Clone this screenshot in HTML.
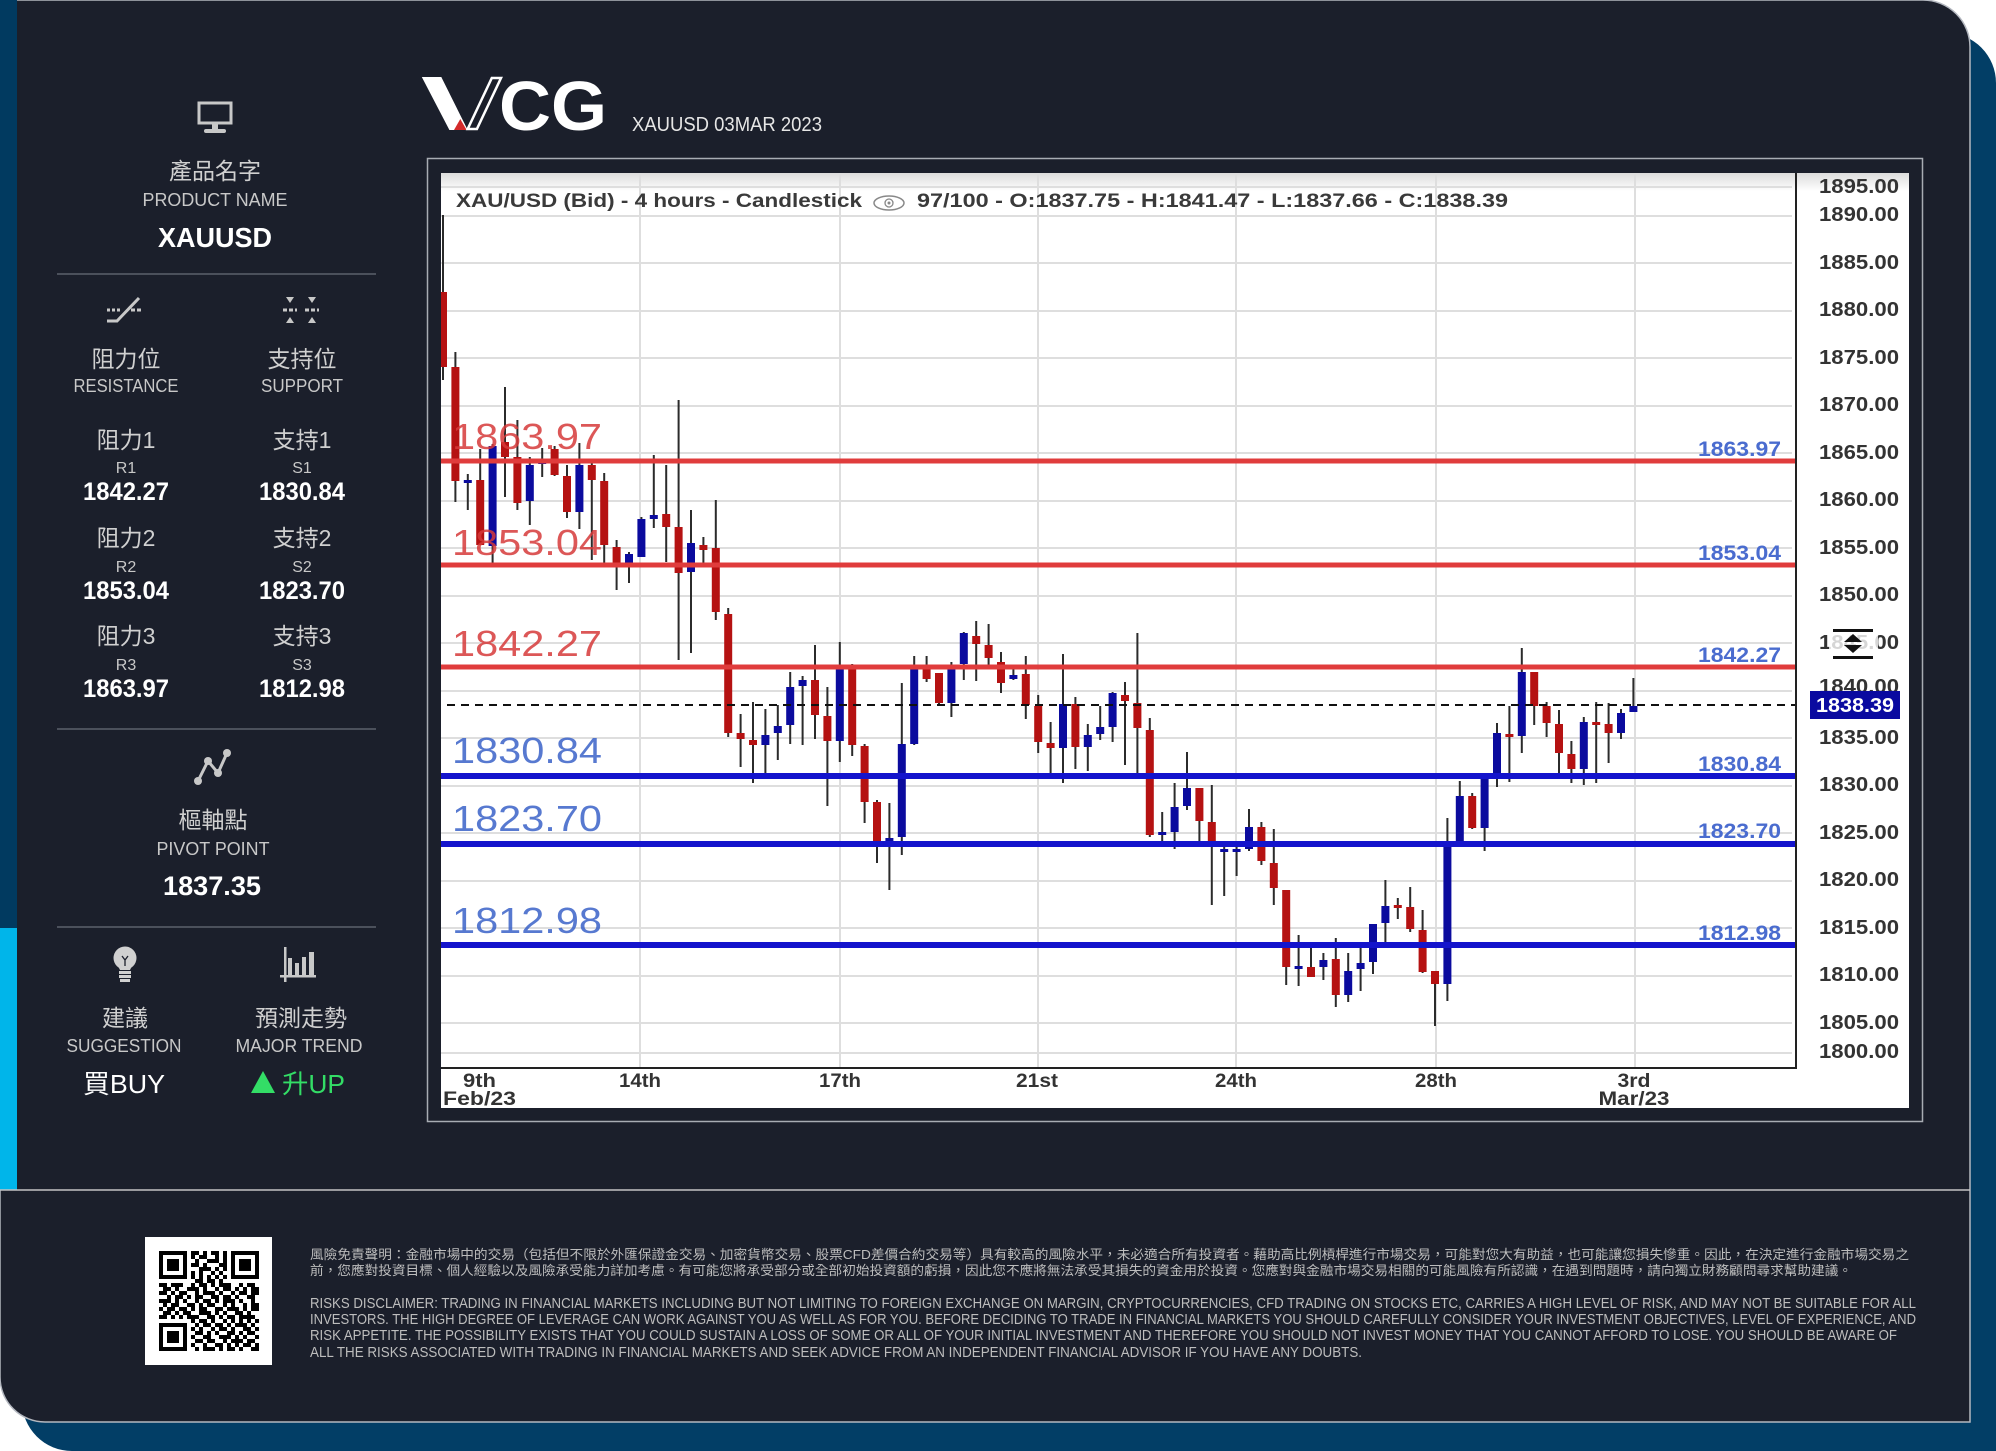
<!DOCTYPE html>
<html><head><meta charset="utf-8">
<style>
html,body{margin:0;padding:0;background:#fff;width:1996px;height:1451px;overflow:hidden}
svg{display:block}
text{font-family:"Liberation Sans","Noto Sans CJK TC",sans-serif}
</style></head>
<body>
<svg width="1996" height="1451" viewBox="0 0 1996 1451" xmlns="http://www.w3.org/2000/svg">
<defs>
<clipPath id="plot"><rect x="441" y="173" width="1355" height="895"/></clipPath>
<linearGradient id="hg" x1="0" y1="0" x2="0" y2="1"><stop offset="0" stop-color="#dcdcdc"/><stop offset="1" stop-color="#ffffff"/></linearGradient>
</defs>
<rect x="0" y="0" width="1996" height="1451" fill="#ffffff"/>
<!-- back blue card -->
<path d="M22 33 H1946 A50 50 0 0 1 1996 83 V1451 H72 A50 50 0 0 1 22 1401 Z" fill="#023e66"/>
<!-- dark card -->
<path d="M0 0 H1923 A47 47 0 0 1 1970 47 V1422 H45 A45 45 0 0 1 0 1377 Z" fill="#1b1f2b" stroke="#b4b8c0" stroke-width="1.5"/>
<!-- left strip -->
<rect x="0" y="0" width="17" height="928" fill="#013a60"/>
<rect x="0" y="928" width="17" height="262" fill="#00b5ea"/>
<line x1="0" y1="1190" x2="1970" y2="1190" stroke="#c4c4c4" stroke-width="1.5"/>

<!-- SIDEBAR -->
<g fill="none" stroke="#c8c8c8">
<rect x="199" y="103" width="32" height="20" stroke-width="3"/>
</g>
<rect x="212" y="124" width="6" height="6" fill="#c8c8c8"/>
<rect x="204" y="129" width="22" height="4" rx="2" fill="#c8c8c8"/>
<g font-size="23" fill="#d0d0d0" text-anchor="middle">
<text x="215" y="179">產品名字</text>
</g>
<text x="215" y="206" font-size="18" fill="#c8c8c8" text-anchor="middle" textLength="145" lengthAdjust="spacingAndGlyphs">PRODUCT NAME</text>
<text x="215" y="247" font-size="28" font-weight="bold" fill="#ffffff" text-anchor="middle" textLength="114" lengthAdjust="spacingAndGlyphs">XAUUSD</text>
<g stroke="#4b505b" stroke-width="2">
<line x1="57" y1="274" x2="376" y2="274"/>
<line x1="57" y1="729" x2="376" y2="729"/>
<line x1="57" y1="927" x2="376" y2="927"/>
</g>
<!-- resistance icon -->
<g stroke="#c8c8c8" stroke-width="3" fill="none">
<path d="M107 321 H117 L139 298"/>
<line x1="107" y1="310" x2="122" y2="310" stroke-dasharray="3 2"/>
<line x1="131" y1="310" x2="143" y2="310" stroke-dasharray="4 2"/>
<line x1="283" y1="310" x2="297" y2="310" stroke-dasharray="4 2"/>
<line x1="305" y1="310" x2="319" y2="310" stroke-dasharray="4 2"/>
</g>
<g fill="#c8c8c8">
<polygon points="286,297 294,297 290,303"/>
<polygon points="308,297 316,297 312,303"/>
<polygon points="286,323 294,323 290,317"/>
<polygon points="308,323 316,323 312,317"/>
</g>
<g font-size="23" fill="#d0d0d0" text-anchor="middle">
<text x="126" y="367">阻力位</text>
<text x="302" y="367">支持位</text>
<text x="126" y="448">阻力1</text>
<text x="302" y="448">支持1</text>
<text x="126" y="546">阻力2</text>
<text x="302" y="546">支持2</text>
<text x="126" y="644">阻力3</text>
<text x="302" y="644">支持3</text>
<text x="213" y="828">樞軸點</text>
<text x="125" y="1026">建議</text>
<text x="301" y="1026">預測走勢</text>
</g>
<g font-size="18" fill="#c8c8c8" text-anchor="middle">
<text x="126" y="392" textLength="105" lengthAdjust="spacingAndGlyphs">RESISTANCE</text>
<text x="302" y="392" textLength="82" lengthAdjust="spacingAndGlyphs">SUPPORT</text>
<text x="213" y="855" textLength="113" lengthAdjust="spacingAndGlyphs">PIVOT POINT</text>
<text x="124" y="1052" textLength="115" lengthAdjust="spacingAndGlyphs">SUGGESTION</text>
<text x="299" y="1052" textLength="127" lengthAdjust="spacingAndGlyphs">MAJOR TREND</text>
</g>
<g font-size="16" fill="#c8c8c8" text-anchor="middle">
<text x="126" y="473">R1</text><text x="302" y="473">S1</text>
<text x="126" y="572">R2</text><text x="302" y="572">S2</text>
<text x="126" y="670">R3</text><text x="302" y="670">S3</text>
</g>
<g font-size="25" font-weight="bold" fill="#ffffff" text-anchor="middle">
<text x="126" y="500" textLength="86" lengthAdjust="spacingAndGlyphs">1842.27</text>
<text x="302" y="500" textLength="86" lengthAdjust="spacingAndGlyphs">1830.84</text>
<text x="126" y="599" textLength="86" lengthAdjust="spacingAndGlyphs">1853.04</text>
<text x="302" y="599" textLength="86" lengthAdjust="spacingAndGlyphs">1823.70</text>
<text x="126" y="697" textLength="86" lengthAdjust="spacingAndGlyphs">1863.97</text>
<text x="302" y="697" textLength="86" lengthAdjust="spacingAndGlyphs">1812.98</text>
</g>
<text x="212" y="895" font-size="27" font-weight="bold" fill="#ffffff" text-anchor="middle" textLength="98" lengthAdjust="spacingAndGlyphs">1837.35</text>
<!-- pivot icon -->
<polyline points="198,781 208,761 218,773 227,753" fill="none" stroke="#c8c8c8" stroke-width="3"/>
<g fill="#c8c8c8"><circle cx="198" cy="781" r="4"/><circle cx="208" cy="761" r="4"/><circle cx="218" cy="773" r="4"/><circle cx="227" cy="753" r="4"/></g>
<!-- bulb -->
<circle cx="125" cy="958" r="11.5" fill="#d0d0d0"/>
<polygon points="117,964 133,964 130,970 120,970" fill="#d0d0d0"/>
<rect x="119" y="971" width="12" height="3" fill="#d0d0d0"/>
<rect x="119" y="975" width="12" height="3" fill="#d0d0d0"/>
<rect x="120" y="979" width="10" height="3" fill="#d0d0d0"/>
<path d="M122 956 L125 960 L128 956 M125 960 V966" stroke="#1b1f2b" stroke-width="1.3" fill="none"/>
<!-- bar chart icon -->
<g fill="#c8c8c8">
<rect x="284" y="947" width="2.5" height="35"/>
<rect x="280" y="975" width="36" height="2.5"/>
<rect x="288" y="958" width="4" height="17"/>
<rect x="295" y="963" width="4" height="12"/>
<rect x="302" y="957" width="4" height="18"/>
<rect x="309" y="952" width="5" height="23"/>
</g>
<text x="124" y="1093" font-size="26" fill="#ffffff" text-anchor="middle" textLength="82" lengthAdjust="spacingAndGlyphs">買BUY</text>
<polygon points="251,1093 275,1093 263,1071" fill="#33dd66"/>
<text x="282" y="1093" font-size="26" fill="#33dd66" textLength="63" lengthAdjust="spacingAndGlyphs">升UP</text>

<!-- LOGO -->
<polygon points="421.8,77 441.3,77 467.7,130 449.4,130" fill="#ffffff"/>
<polygon points="454,130 466.6,130 460.3,119" fill="#d42a2a"/>
<polygon points="467.7,129 476.9,129 501,78 491.8,78" fill="none" stroke="#ffffff" stroke-width="2.5"/>
<text x="499" y="130" font-size="70" font-weight="bold" fill="#ffffff" textLength="108" lengthAdjust="spacingAndGlyphs">CG</text>
<text x="632" y="131" font-size="20" fill="#e6e6e6" textLength="190" lengthAdjust="spacingAndGlyphs">XAUUSD 03MAR 2023</text>

<!-- CHART FRAME -->
<rect x="427.5" y="158.5" width="1495" height="963" fill="none" stroke="#a8acb3" stroke-width="1.5"/>
<rect x="441" y="173" width="1468" height="935" fill="#ffffff"/>
<rect x="441" y="173" width="1468" height="18" fill="url(#hg)"/>
<g stroke="#dedede" stroke-width="2">
<line x1="640" y1="173" x2="640" y2="1068"/>
<line x1="840" y1="173" x2="840" y2="1068"/>
<line x1="1038" y1="173" x2="1038" y2="1068"/>
<line x1="1236" y1="173" x2="1236" y2="1068"/>
<line x1="1436" y1="173" x2="1436" y2="1068"/>
<line x1="1635" y1="173" x2="1635" y2="1068"/>
</g>
<path stroke="#dedede" stroke-width="2" d="M441 187H1792M441 216H1792M441 263H1792M441 311H1792M441 358H1792M441 406H1792M441 453H1792M441 501H1792M441 548H1792M441 596H1792M441 643H1792M441 691H1792M441 738H1792M441 786H1792M441 833H1792M441 881H1792M441 928H1792M441 976H1792M441 1023H1792M441 1053H1792"/>

<g clip-path="url(#plot)">
<path stroke="#2b2b2b" stroke-width="2" fill="none" d="M443 215V380M455.4 352V502M467.8 474V510M480.2 449V545M492.6 444V565M505 387V497M517.4 420V510M529.8 457V525M542.2 448V477M554.6 446V476M567 465V518M579.4 443V529M591.8 462V560M604.2 473V565M616.6 540V590M629 552V583M641.4 517V557M653.8 455V528M666.2 465V562M678.6 400V660M691 510V653M703.4 537V565M715.8 500V620M728.2 608V737M740.6 714V767M753 702V783M765.4 709V776M777.8 705V760M790.2 672V744M802.6 676V745M815 645V739M827.4 687V806M839.8 642V762M852.2 664V756M864.6 744V823M877 800V863M889.4 803V890M901.8 683V855M914.2 656V745M926.6 656V682M939 673V706M951.4 662V717M963.8 632V680M976.2 621V681M988.6 624V667M1001 652V693M1013.4 665V680M1025.8 656V719M1038.2 695V753M1050.6 722V775M1063 654V783M1075.4 697V769M1087.8 724V771M1100.2 706V740M1112.6 692V742M1125 682V765M1137.4 633V775M1149.8 718V837M1162.2 812V842M1174.6 783V849M1187 752V810M1199.4 788V843M1211.8 785V905M1224.2 843V896M1236.6 843V876M1249 809V851M1261.4 822V865M1273.8 829V905M1286.2 890V985M1298.6 935V986M1311 943V977M1323.4 953V980M1335.8 938V1007M1348.2 953V1002M1360.6 942V991M1373 924V974M1385.4 880V945M1397.8 898V919M1410.2 887V932M1422.6 910V973M1435 971V1026M1447.4 818V1001M1459.8 781V841M1472.2 793V829M1484.6 774V851M1497 723V787M1509.4 706V782M1521.8 648V753M1534.2 672V725M1546.6 702V737M1559 710V775M1571.4 741V783M1583.8 717V785M1596.2 702V783M1608.6 703V763M1621 709V739M1633.4 678V712"/>
<g fill="#b51212">
<rect x="439" y="292" width="8" height="75"/>
<rect x="451.4" y="367" width="8" height="114"/>
<rect x="476.2" y="480" width="8" height="65"/>
<rect x="501" y="442" width="8" height="15"/>
<rect x="513.4" y="457" width="8" height="46"/>
<rect x="550.6" y="449" width="8" height="26"/>
<rect x="563" y="476" width="8" height="36"/>
<rect x="587.8" y="465" width="8" height="15"/>
<rect x="600.2" y="481" width="8" height="64"/>
<rect x="612.6" y="547" width="8" height="19"/>
<rect x="662.2" y="514" width="8" height="13"/>
<rect x="674.6" y="527" width="8" height="46"/>
<rect x="699.4" y="545" width="8" height="5"/>
<rect x="711.8" y="548" width="8" height="64"/>
<rect x="724.2" y="614" width="8" height="119"/>
<rect x="736.6" y="733" width="8" height="6"/>
<rect x="749" y="740" width="8" height="5"/>
<rect x="811" y="680" width="8" height="35"/>
<rect x="823.4" y="716" width="8" height="25"/>
<rect x="848.2" y="665" width="8" height="80"/>
<rect x="860.6" y="746" width="8" height="56"/>
<rect x="873" y="802" width="8" height="39"/>
<rect x="922.6" y="666" width="8" height="13"/>
<rect x="935" y="673" width="8" height="30"/>
<rect x="972.2" y="636" width="8" height="8"/>
<rect x="984.6" y="645" width="8" height="13"/>
<rect x="997" y="662" width="8" height="21"/>
<rect x="1021.8" y="674" width="8" height="31"/>
<rect x="1034.2" y="706" width="8" height="36"/>
<rect x="1046.6" y="743" width="8" height="5"/>
<rect x="1071.4" y="704" width="8" height="43"/>
<rect x="1121" y="695" width="8" height="6"/>
<rect x="1133.4" y="703" width="8" height="25"/>
<rect x="1145.8" y="730" width="8" height="105"/>
<rect x="1195.4" y="788" width="8" height="33"/>
<rect x="1207.8" y="822" width="8" height="21"/>
<rect x="1257.4" y="827" width="8" height="34"/>
<rect x="1269.8" y="863" width="8" height="25"/>
<rect x="1282.2" y="890" width="8" height="77"/>
<rect x="1307" y="967" width="8" height="10"/>
<rect x="1331.8" y="959" width="8" height="36"/>
<rect x="1393.8" y="905" width="8" height="3"/>
<rect x="1406.2" y="907" width="8" height="22"/>
<rect x="1418.6" y="930" width="8" height="42"/>
<rect x="1431" y="971" width="8" height="13"/>
<rect x="1468.2" y="796" width="8" height="32"/>
<rect x="1505.4" y="734" width="8" height="3"/>
<rect x="1530.2" y="672" width="8" height="34"/>
<rect x="1542.6" y="706" width="8" height="17"/>
<rect x="1555" y="724" width="8" height="29"/>
<rect x="1567.4" y="754" width="8" height="15"/>
<rect x="1592.2" y="722" width="8" height="3"/>
<rect x="1604.6" y="724" width="8" height="9"/>
</g>
<g fill="#0b0b9e">
<rect x="463.8" y="480" width="8" height="3"/>
<rect x="488.6" y="446" width="8" height="100"/>
<rect x="525.8" y="465" width="8" height="36"/>
<rect x="538.2" y="461" width="8" height="3"/>
<rect x="575.4" y="465" width="8" height="47"/>
<rect x="625" y="554" width="8" height="11"/>
<rect x="637.4" y="519" width="8" height="38"/>
<rect x="649.8" y="515" width="8" height="4"/>
<rect x="687" y="543" width="8" height="29"/>
<rect x="761.4" y="735" width="8" height="10"/>
<rect x="773.8" y="726" width="8" height="7"/>
<rect x="786.2" y="687" width="8" height="38"/>
<rect x="798.6" y="680" width="8" height="6"/>
<rect x="835.8" y="665" width="8" height="76"/>
<rect x="885.4" y="838" width="8" height="7"/>
<rect x="897.8" y="744" width="8" height="93"/>
<rect x="910.2" y="666" width="8" height="78"/>
<rect x="947.4" y="666" width="8" height="37"/>
<rect x="959.8" y="633" width="8" height="31"/>
<rect x="1009.4" y="675" width="8" height="4"/>
<rect x="1059" y="704" width="8" height="44"/>
<rect x="1083.8" y="735" width="8" height="12"/>
<rect x="1096.2" y="727" width="8" height="7"/>
<rect x="1108.6" y="693" width="8" height="34"/>
<rect x="1158.2" y="832" width="8" height="3"/>
<rect x="1170.6" y="807" width="8" height="25"/>
<rect x="1183" y="788" width="8" height="18"/>
<rect x="1220.2" y="849" width="8" height="3"/>
<rect x="1232.6" y="849" width="8" height="3"/>
<rect x="1245" y="827" width="8" height="22"/>
<rect x="1294.6" y="966" width="8" height="3"/>
<rect x="1319.4" y="960" width="8" height="7"/>
<rect x="1344.2" y="971" width="8" height="24"/>
<rect x="1356.6" y="963" width="8" height="6"/>
<rect x="1369" y="924" width="8" height="38"/>
<rect x="1381.4" y="906" width="8" height="17"/>
<rect x="1443.4" y="844" width="8" height="140"/>
<rect x="1455.8" y="796" width="8" height="45"/>
<rect x="1480.6" y="778" width="8" height="50"/>
<rect x="1493" y="733" width="8" height="44"/>
<rect x="1517.8" y="672" width="8" height="64"/>
<rect x="1579.8" y="722" width="8" height="47"/>
<rect x="1617" y="713" width="8" height="20"/>
<rect x="1629.4" y="706" width="8" height="6"/>
</g>
</g>

<!-- S/R lines -->
<g stroke="#e03c3c" stroke-width="5">
<line x1="441" y1="461" x2="1796" y2="461"/>
<line x1="441" y1="565" x2="1796" y2="565"/>
<line x1="441" y1="667" x2="1796" y2="667"/>
</g>
<g stroke="#1414cc" stroke-width="6">
<line x1="441" y1="776" x2="1796" y2="776"/>
<line x1="441" y1="844" x2="1796" y2="844"/>
<line x1="441" y1="945" x2="1796" y2="945"/>
</g>
<line x1="447" y1="705" x2="1796" y2="705" stroke="#111" stroke-width="2" stroke-dasharray="8 6"/>
<g font-size="36" fill-opacity="0.85">
<text x="452" y="449" fill="#d63a3a" textLength="150" lengthAdjust="spacingAndGlyphs">1863.97</text>
<text x="452" y="555" fill="#d63a3a" textLength="150" lengthAdjust="spacingAndGlyphs">1853.04</text>
<text x="452" y="656" fill="#d63a3a" textLength="150" lengthAdjust="spacingAndGlyphs">1842.27</text>
<text x="452" y="763" fill="#3a62c8" textLength="150" lengthAdjust="spacingAndGlyphs">1830.84</text>
<text x="452" y="831" fill="#3a62c8" textLength="150" lengthAdjust="spacingAndGlyphs">1823.70</text>
<text x="452" y="933" fill="#3a62c8" textLength="150" lengthAdjust="spacingAndGlyphs">1812.98</text>
</g>
<g font-size="21" font-weight="bold" fill="#4a6ccf" text-anchor="end">
<text x="1781" y="456" textLength="83" lengthAdjust="spacingAndGlyphs">1863.97</text>
<text x="1781" y="560" textLength="83" lengthAdjust="spacingAndGlyphs">1853.04</text>
<text x="1781" y="662" textLength="83" lengthAdjust="spacingAndGlyphs">1842.27</text>
<text x="1781" y="771" textLength="83" lengthAdjust="spacingAndGlyphs">1830.84</text>
<text x="1781" y="838" textLength="83" lengthAdjust="spacingAndGlyphs">1823.70</text>
<text x="1781" y="940" textLength="83" lengthAdjust="spacingAndGlyphs">1812.98</text>
</g>
<!-- plot borders -->
<line x1="1796" y1="173" x2="1796" y2="1069" stroke="#222" stroke-width="2"/>
<line x1="441" y1="1068" x2="1797" y2="1068" stroke="#222" stroke-width="2"/>

<!-- title -->
<text x="456" y="207" font-size="19" font-weight="bold" fill="#3a3a3a" textLength="406" lengthAdjust="spacingAndGlyphs">XAU/USD (Bid) - 4 hours - Candlestick</text>
<ellipse cx="889" cy="203" rx="15" ry="7" fill="none" stroke="#888" stroke-width="1.5"/>
<circle cx="889" cy="203" r="4" fill="none" stroke="#888" stroke-width="1.3"/>
<circle cx="889" cy="203" r="1.5" fill="#888"/>
<text x="917" y="207" font-size="19" font-weight="bold" fill="#3a3a3a" textLength="591" lengthAdjust="spacingAndGlyphs">97/100 - O:1837.75 - H:1841.47 - L:1837.66 - C:1838.39</text>

<!-- y axis labels -->
<g font-size="20" font-weight="bold" fill="#333">
<text x="1819" y="193" textLength="80" lengthAdjust="spacingAndGlyphs">1895.00</text>
<text x="1819" y="221" textLength="80" lengthAdjust="spacingAndGlyphs">1890.00</text>
<text x="1819" y="269" textLength="80" lengthAdjust="spacingAndGlyphs">1885.00</text>
<text x="1819" y="316" textLength="80" lengthAdjust="spacingAndGlyphs">1880.00</text>
<text x="1819" y="364" textLength="80" lengthAdjust="spacingAndGlyphs">1875.00</text>
<text x="1819" y="411" textLength="80" lengthAdjust="spacingAndGlyphs">1870.00</text>
<text x="1819" y="459" textLength="80" lengthAdjust="spacingAndGlyphs">1865.00</text>
<text x="1819" y="506" textLength="80" lengthAdjust="spacingAndGlyphs">1860.00</text>
<text x="1819" y="554" textLength="80" lengthAdjust="spacingAndGlyphs">1855.00</text>
<text x="1819" y="601" textLength="80" lengthAdjust="spacingAndGlyphs">1850.00</text>
<text x="1819" y="649" textLength="80" lengthAdjust="spacingAndGlyphs">1845.00</text>
<text x="1819" y="693" textLength="80" lengthAdjust="spacingAndGlyphs">1840.00</text>
<text x="1819" y="744" textLength="80" lengthAdjust="spacingAndGlyphs">1835.00</text>
<text x="1819" y="791" textLength="80" lengthAdjust="spacingAndGlyphs">1830.00</text>
<text x="1819" y="839" textLength="80" lengthAdjust="spacingAndGlyphs">1825.00</text>
<text x="1819" y="886" textLength="80" lengthAdjust="spacingAndGlyphs">1820.00</text>
<text x="1819" y="934" textLength="80" lengthAdjust="spacingAndGlyphs">1815.00</text>
<text x="1819" y="981" textLength="80" lengthAdjust="spacingAndGlyphs">1810.00</text>
<text x="1819" y="1029" textLength="80" lengthAdjust="spacingAndGlyphs">1805.00</text>
<text x="1819" y="1058" textLength="80" lengthAdjust="spacingAndGlyphs">1800.00</text>
</g>
<!-- scale icon overlay -->
<rect x="1829" y="627" width="49" height="34" fill="#ffffff" fill-opacity="0.8"/>
<rect x="1833" y="629" width="40" height="3" fill="#111"/>
<rect x="1833" y="656" width="40" height="3" fill="#111"/>
<polygon points="1853,634 1862,642 1844,642" fill="#111"/>
<polygon points="1844,645 1862,645 1853,653" fill="#111"/>
<!-- price tag -->
<rect x="1810" y="691" width="90" height="28" fill="#0a0aa0"/>
<text x="1816" y="712" font-size="20" font-weight="bold" fill="#ffffff" textLength="78" lengthAdjust="spacingAndGlyphs">1838.39</text>

<!-- x axis labels -->
<g font-size="19" font-weight="bold" fill="#333">
<text x="463" y="1087" textLength="33" lengthAdjust="spacingAndGlyphs">9th</text>
<text x="443" y="1105" textLength="73" lengthAdjust="spacingAndGlyphs">Feb/23</text>
<text x="640" y="1087" text-anchor="middle" textLength="42" lengthAdjust="spacingAndGlyphs">14th</text>
<text x="840" y="1087" text-anchor="middle" textLength="42" lengthAdjust="spacingAndGlyphs">17th</text>
<text x="1037" y="1087" text-anchor="middle" textLength="42" lengthAdjust="spacingAndGlyphs">21st</text>
<text x="1236" y="1087" text-anchor="middle" textLength="42" lengthAdjust="spacingAndGlyphs">24th</text>
<text x="1436" y="1087" text-anchor="middle" textLength="42" lengthAdjust="spacingAndGlyphs">28th</text>
<text x="1634" y="1087" text-anchor="middle" textLength="33" lengthAdjust="spacingAndGlyphs">3rd</text>
<text x="1634" y="1105" text-anchor="middle" textLength="71" lengthAdjust="spacingAndGlyphs">Mar/23</text>
</g>

<!-- FOOTER -->
<rect x="145" y="1237" width="127" height="128" fill="#ffffff"/>
<g fill="none" stroke="#000" stroke-width="4">
<rect x="161" y="1253" width="24" height="24"/>
<rect x="233" y="1253" width="24" height="24"/>
<rect x="161" y="1325" width="24" height="24"/>
</g>
<g fill="#000">
<rect x="167" y="1259" width="12" height="12"/>
<rect x="239" y="1259" width="12" height="12"/>
<rect x="167" y="1331" width="12" height="12"/>
<path d="M191 1251h8v4h-8zM203 1251h4v4h-4zM211 1251h8v4h-8zM223 1251h4v4h-4zM191 1255h4v4h-4zM199 1255h8v4h-8zM215 1255h4v4h-4zM223 1255h4v4h-4zM195 1259h4v4h-4zM207 1259h12v4h-12zM223 1259h4v4h-4zM191 1263h8v4h-8zM203 1263h4v4h-4zM219 1263h8v4h-8zM199 1267h12v4h-12zM215 1267h4v4h-4zM223 1267h4v4h-4zM191 1271h4v4h-4zM199 1271h4v4h-4zM211 1271h4v4h-4zM219 1271h4v4h-4zM191 1275h4v4h-4zM199 1275h4v4h-4zM207 1275h4v4h-4zM215 1275h4v4h-4zM223 1275h4v4h-4zM195 1279h8v4h-8zM207 1279h8v4h-8zM219 1279h4v4h-4zM159 1283h8v4h-8zM171 1283h12v4h-12zM191 1283h4v4h-4zM199 1283h8v4h-8zM211 1283h4v4h-4zM219 1283h12v4h-12zM239 1283h4v4h-4zM247 1283h8v4h-8zM163 1287h8v4h-8zM175 1287h4v4h-4zM187 1287h12v4h-12zM203 1287h4v4h-4zM215 1287h4v4h-4zM223 1287h8v4h-8zM235 1287h4v4h-4zM243 1287h4v4h-4zM251 1287h8v4h-8zM159 1291h8v4h-8zM171 1291h4v4h-4zM179 1291h8v4h-8zM195 1291h4v4h-4zM203 1291h12v4h-12zM219 1291h4v4h-4zM231 1291h4v4h-4zM239 1291h8v4h-8zM251 1291h8v4h-8zM167 1295h4v4h-4zM175 1295h8v4h-8zM187 1295h4v4h-4zM195 1295h8v4h-8zM211 1295h8v4h-8zM223 1295h8v4h-8zM235 1295h4v4h-4zM247 1295h8v4h-8zM159 1299h12v4h-12zM175 1299h4v4h-4zM183 1299h4v4h-4zM195 1299h4v4h-4zM203 1299h8v4h-8zM215 1299h4v4h-4zM223 1299h12v4h-12zM239 1299h4v4h-4zM251 1299h4v4h-4zM163 1303h4v4h-4zM171 1303h8v4h-8zM187 1303h8v4h-8zM199 1303h4v4h-4zM207 1303h8v4h-8zM223 1303h4v4h-4zM231 1303h4v4h-4zM243 1303h4v4h-4zM251 1303h8v4h-8zM159 1307h4v4h-4zM167 1307h8v4h-8zM179 1307h8v4h-8zM191 1307h4v4h-4zM199 1307h8v4h-8zM215 1307h8v4h-8zM227 1307h12v4h-12zM243 1307h4v4h-4zM251 1307h8v4h-8zM163 1311h8v4h-8zM175 1311h4v4h-4zM183 1311h8v4h-8zM199 1311h12v4h-12zM215 1311h4v4h-4zM223 1311h4v4h-4zM235 1311h8v4h-8zM247 1311h4v4h-4zM159 1315h8v4h-8zM171 1315h4v4h-4zM179 1315h4v4h-4zM187 1315h12v4h-12zM207 1315h8v4h-8zM219 1315h4v4h-4zM227 1315h8v4h-8zM239 1315h16v4h-16zM191 1319h4v4h-4zM199 1319h8v4h-8zM211 1319h4v4h-4zM223 1319h4v4h-4zM231 1319h4v4h-4zM239 1319h4v4h-4zM247 1319h4v4h-4zM255 1319h4v4h-4zM195 1323h4v4h-4zM203 1323h8v4h-8zM215 1323h8v4h-8zM227 1323h4v4h-4zM235 1323h12v4h-12zM251 1323h4v4h-4zM191 1327h4v4h-4zM199 1327h4v4h-4zM211 1327h4v4h-4zM219 1327h8v4h-8zM231 1327h4v4h-4zM243 1327h8v4h-8zM255 1327h4v4h-4zM195 1331h8v4h-8zM207 1331h4v4h-4zM215 1331h4v4h-4zM227 1331h8v4h-8zM239 1331h4v4h-4zM247 1331h8v4h-8zM191 1335h4v4h-4zM203 1335h8v4h-8zM219 1335h12v4h-12zM235 1335h4v4h-4zM243 1335h4v4h-4zM255 1335h4v4h-4zM195 1339h8v4h-8zM207 1339h8v4h-8zM223 1339h4v4h-4zM231 1339h12v4h-12zM247 1339h8v4h-8zM191 1343h4v4h-4zM203 1343h4v4h-4zM215 1343h8v4h-8zM227 1343h4v4h-4zM235 1343h4v4h-4zM243 1343h8v4h-8zM255 1343h4v4h-4zM195 1347h4v4h-4zM203 1347h12v4h-12zM219 1347h4v4h-4zM227 1347h8v4h-8zM239 1347h4v4h-4zM251 1347h8v4h-8z"/>
</g>
<g fill="#bdbdbd">
<text x="310" y="1259" font-size="13" textLength="1599" lengthAdjust="spacingAndGlyphs">風險免責聲明：金融市場中的交易（包括但不限於外匯保證金交易、加密貨幣交易、股票CFD差價合約交易等）具有較高的風險水平，未必適合所有投資者。藉助高比例槓桿進行市場交易，可能對您大有助益，也可能讓您損失慘重。因此，在決定進行金融市場交易之</text>
<text x="310" y="1275" font-size="13" textLength="1542" lengthAdjust="spacingAndGlyphs">前，您應對投資目標、個人經驗以及風險承受能力詳加考慮。有可能您將承受部分或全部初始投資額的虧損，因此您不應將無法承受其損失的資金用於投資。您應對與金融市場交易相關的可能風險有所認識，在遇到問題時，請向獨立財務顧問尋求幫助建議。</text>
<text x="310" y="1308" font-size="14.5" textLength="1606" lengthAdjust="spacingAndGlyphs">RISKS DISCLAIMER: TRADING IN FINANCIAL MARKETS INCLUDING BUT NOT LIMITING TO FOREIGN EXCHANGE ON MARGIN, CRYPTOCURRENCIES, CFD TRADING ON STOCKS ETC, CARRIES A HIGH LEVEL OF RISK, AND MAY NOT BE SUITABLE FOR ALL</text>
<text x="310" y="1324" font-size="14.5" textLength="1606" lengthAdjust="spacingAndGlyphs">INVESTORS. THE HIGH DEGREE OF LEVERAGE CAN WORK AGAINST YOU AS WELL AS FOR YOU. BEFORE DECIDING TO TRADE IN FINANCIAL MARKETS YOU SHOULD CAREFULLY CONSIDER YOUR INVESTMENT OBJECTIVES, LEVEL OF EXPERIENCE, AND</text>
<text x="310" y="1340" font-size="14.5" textLength="1587" lengthAdjust="spacingAndGlyphs">RISK APPETITE. THE POSSIBILITY EXISTS THAT YOU COULD SUSTAIN A LOSS OF SOME OR ALL OF YOUR INITIAL INVESTMENT AND THEREFORE YOU SHOULD NOT INVEST MONEY THAT YOU CANNOT AFFORD TO LOSE. YOU SHOULD BE AWARE OF</text>
<text x="310" y="1357" font-size="14.5" textLength="1052" lengthAdjust="spacingAndGlyphs">ALL THE RISKS ASSOCIATED WITH TRADING IN FINANCIAL MARKETS AND SEEK ADVICE FROM AN INDEPENDENT FINANCIAL ADVISOR IF YOU HAVE ANY DOUBTS.</text>
</g>
</svg>
</body></html>
